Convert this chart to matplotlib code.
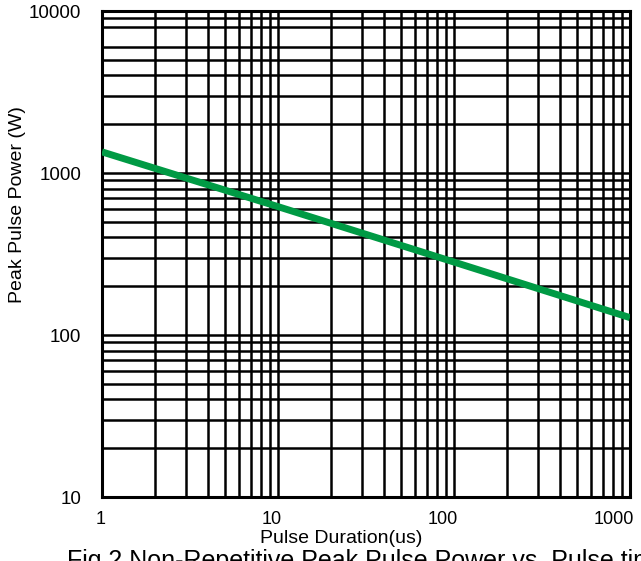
import numpy as np
import matplotlib
matplotlib.use("Agg")
import matplotlib.pyplot as plt
from matplotlib.ticker import FixedLocator, NullFormatter
from matplotlib.transforms import ScaledTranslation

plt.rcParams['font.family'] = ['Liberation Sans', 'DejaVu Sans']

# pulse duration (us) vs peak pulse power (W)
duration = [1, 10, 100, 1000]
power = [1350, 620, 282, 128]

x_major = [1, 10, 100, 1000]
x_labels = ["1", "10", "100", "1000"]
y_major = [10, 100, 1000, 10000]
y_labels = ["10", "100", "1000", "10000"]
# grid lines as drawn in the original (no 7000 line in the top decade)
x_minor = [m * d for d in (1, 10, 100) for m in range(2, 10)]
y_minor = [m * d for d in (10, 100) for m in range(2, 10)] + \
          [2000, 3000, 4000, 5000, 6000, 8000, 9000]

fig = plt.figure(figsize=(6.41, 5.61), dpi=100)
ax = fig.add_axes([102/641, 1 - 497/561, (630-102)/641, (497-11)/561])

ax.set_xscale("log")
ax.set_yscale("log")
ax.set_xlim(1, 1000)
ax.set_ylim(10, 10000)

ax.xaxis.set_major_locator(FixedLocator(x_major))
ax.xaxis.set_minor_locator(FixedLocator(x_minor))
ax.yaxis.set_major_locator(FixedLocator(y_major))
ax.yaxis.set_minor_locator(FixedLocator(y_minor))
ax.set_xticklabels(x_labels)
ax.set_yticklabels(y_labels)
ax.xaxis.set_minor_formatter(NullFormatter())
ax.yaxis.set_minor_formatter(NullFormatter())

ax.tick_params(which="both", length=0)
ax.tick_params(axis="x", pad=10, labelsize=13)
ax.tick_params(axis="y", pad=15, labelsize=13.5)
for lab in ax.get_xticklabels():
    lab.set_horizontalalignment("right")
    lab.set_transform(lab.get_transform() + ScaledTranslation(0.04, 0, fig.dpi_scale_trans))

ax.grid(True, which="both", color="black", linewidth=1.8)
for sp in ax.spines.values():
    sp.set_linewidth(2.2)
    sp.set_color("black")

ax.plot(duration, power, color="#009a44", linewidth=5, solid_capstyle="butt", zorder=3)

fig.text(18/641, 1 - 205/561, "Peak Pulse Power (W)", rotation=90,
         ha="center", va="center", fontsize=14)
fig.text(341/641, 1 - 530/561, "Pulse Duration(us)", ha="center", va="top", fontsize=14)
fig.text(67/641, 1 - 549/561, "Fig.2 Non-Repetitive Peak Pulse Power vs. Pulse time",
         ha="left", va="top", fontsize=18)

fig.savefig("out.png", dpi=100)
